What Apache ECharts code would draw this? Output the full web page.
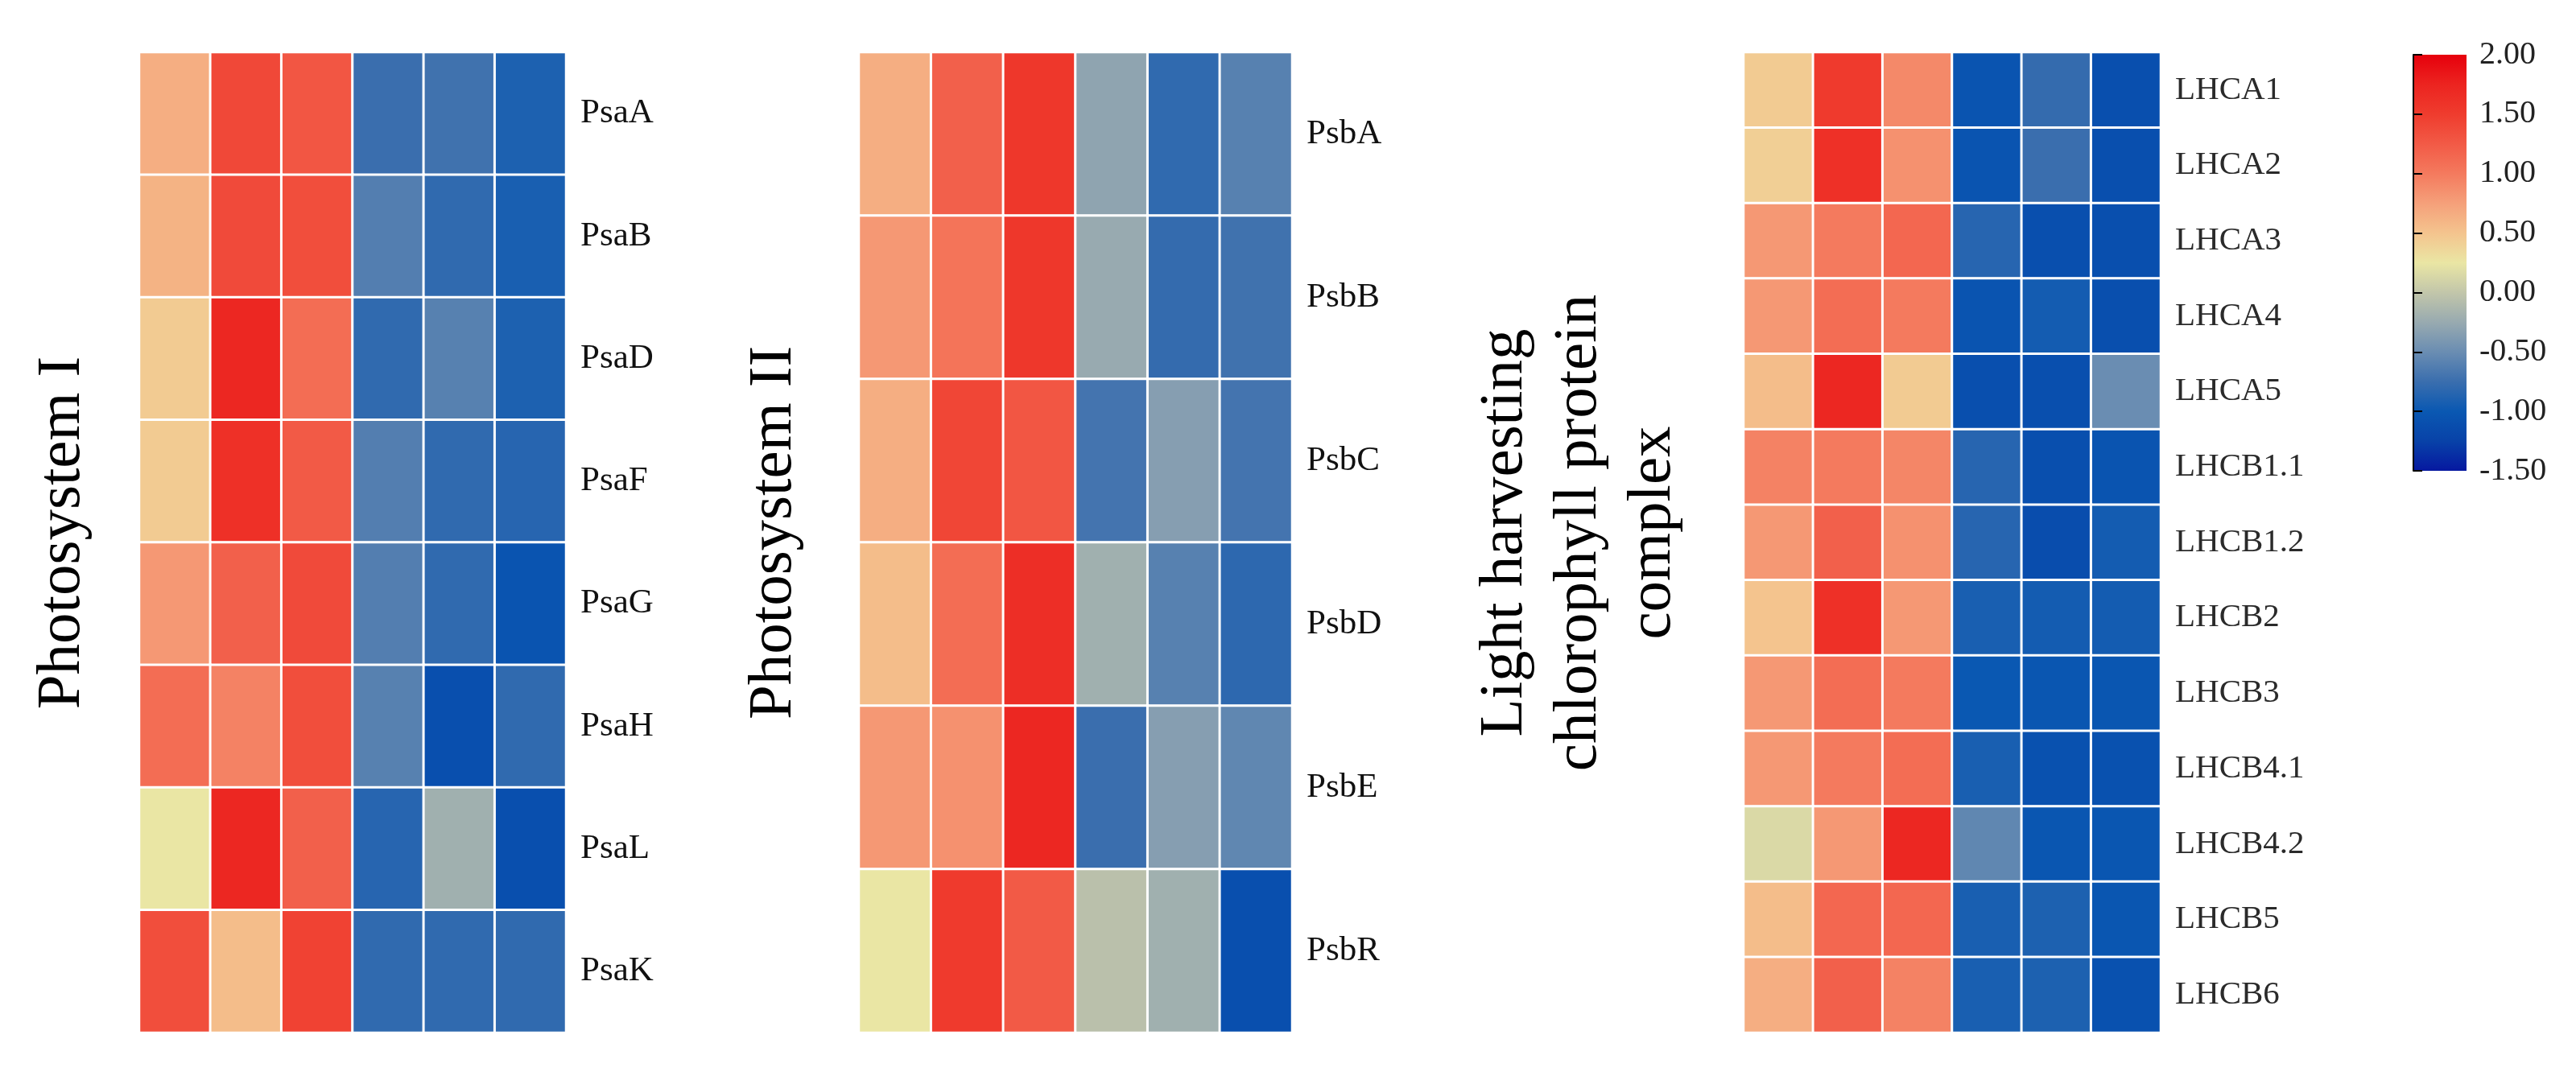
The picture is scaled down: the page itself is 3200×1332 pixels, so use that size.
<!DOCTYPE html>
<html>
<head>
<meta charset="utf-8">
<script src="https://cdn.jsdelivr.net/npm/echarts@6/dist/echarts.min.js"></script>
<style>
  html, body { margin: 0; padding: 0; background: #fff; }
  #main { width: 3200px; height: 1332px; }
</style>
</head>
<body>
<div id="main"></div>
<script>
// samples (columns) - not labelled in the figure
var samples = ['S1', 'S2', 'S3', 'S4', 'S5', 'S6'];

// Photosystem I
var psiGenes = ['PsaA', 'PsaB', 'PsaD', 'PsaF', 'PsaG', 'PsaH', 'PsaL', 'PsaK'];
var psiValues = [
    [0.65, 1.40, 1.28, -0.75, -0.72, -0.90],
    [0.62, 1.38, 1.35, -0.62, -0.80, -0.92],
    [0.45, 1.72, 1.10, -0.80, -0.60, -0.90],
    [0.45, 1.62, 1.25, -0.62, -0.80, -0.85],
    [0.80, 1.20, 1.38, -0.62, -0.80, -1.05],
    [1.10, 0.95, 1.35, -0.60, -1.10, -0.80],
    [0.25, 1.72, 1.20, -0.85, -0.20, -1.10],
    [1.35, 0.55, 1.45, -0.80, -0.80, -0.80]
];

// Photosystem II
var psiiGenes = ['PsbA', 'PsbB', 'PsbC', 'PsbD', 'PsbE', 'PsbR'];
var psiiValues = [
    [0.65, 1.20, 1.55, -0.30, -0.80, -0.60],
    [0.80, 1.05, 1.55, -0.25, -0.78, -0.72],
    [0.65, 1.42, 1.28, -0.70, -0.35, -0.70],
    [0.55, 1.10, 1.65, -0.20, -0.60, -0.82],
    [0.80, 0.85, 1.72, -0.75, -0.35, -0.55],
    [0.25, 1.52, 1.25, -0.05, -0.20, -1.10]
];

// Light harvesting chlorophyll protein complex
var lhcGenes = ['LHCA1', 'LHCA2', 'LHCA3', 'LHCA4', 'LHCA5', 'LHCB1.1', 'LHCB1.2',
    'LHCB2', 'LHCB3', 'LHCB4.1', 'LHCB4.2', 'LHCB5', 'LHCB6'];
var lhcValues = [
    [0.45, 1.52, 0.90, -1.05, -0.78, -1.10],
    [0.42, 1.62, 0.85, -1.05, -0.75, -1.10],
    [0.80, 1.00, 1.15, -0.85, -1.10, -1.10],
    [0.80, 1.10, 1.00, -1.05, -0.95, -1.10],
    [0.55, 1.72, 0.45, -1.10, -1.10, -0.50],
    [0.95, 1.00, 0.92, -0.85, -1.10, -1.05],
    [0.80, 1.20, 0.85, -0.85, -1.12, -0.95],
    [0.50, 1.62, 0.80, -0.92, -0.95, -0.95],
    [0.80, 1.10, 1.00, -1.00, -1.02, -1.02],
    [0.80, 1.00, 1.10, -0.92, -1.08, -1.08],
    [0.15, 0.80, 1.72, -0.55, -1.02, -1.02],
    [0.55, 1.15, 1.15, -0.92, -0.90, -1.02],
    [0.65, 1.20, 0.95, -0.92, -0.90, -1.08]
];

// colour scale, -1.50 .. 2.00 in 0.25 steps
var scaleMin = -1.5, scaleMax = 2, scaleStep = 0.5;
var scaleColors = ['#0618a0', '#0842a8', '#0a58b2', '#3a6eae', '#6a8db2', '#98aab0',
    '#c2c6aa', '#eae6a4', '#f4c48e', '#f5a07a', '#f47a5e', '#f25a46', '#ef3c2e', '#ec2420', '#e6000c'];

var serif = '"Liberation Serif", "Times New Roman", serif';

function toCells(rows) {
    var out = [];
    rows.forEach(function (row, r) {
        row.forEach(function (v, c) { out.push([c, r, v]); });
    });
    return out;
}

var panels = [
    { genes: psiGenes, values: psiValues, left: 173, width: 530, labelSize: 43, labelColor: '#111' },
    { genes: psiiGenes, values: psiiValues, left: 1067, width: 538, labelSize: 43, labelColor: '#111' },
    { genes: lhcGenes, values: lhcValues, left: 2166, width: 518, labelSize: 41, labelColor: '#2a2a2a' }
];

var grids = [], xAxes = [], yAxes = [], series = [];
panels.forEach(function (p, i) {
    grids.push({ left: p.left, top: 65, width: p.width, height: 1218 });
    xAxes.push({ type: 'category', gridIndex: i, data: samples, show: false });
    yAxes.push({
        type: 'category', gridIndex: i, data: p.genes, inverse: true, position: 'right',
        axisLine: { show: false }, axisTick: { show: false }, splitLine: { show: false },
        axisLabel: { fontFamily: serif, fontSize: p.labelSize, color: p.labelColor, margin: 18 }
    });
    series.push({
        type: 'heatmap', xAxisIndex: i, yAxisIndex: i,
        data: toCells(p.values),
        itemStyle: { borderColor: '#fff', borderWidth: 3 },
        emphasis: { disabled: true }
    });
});

// colour bar
var barStops = scaleColors.slice().reverse().map(function (c, i, a) {
    return { offset: i / (a.length - 1), color: c };
});
grids.push({
    left: 2998, top: 68, width: 66, height: 517, show: true, borderWidth: 0,
    backgroundColor: { type: 'linear', x: 0, y: 0, x2: 0, y2: 1, colorStops: barStops }
});
xAxes.push({ type: 'value', gridIndex: 3, show: false, min: 0, max: 1 });
yAxes.push({
    type: 'value', gridIndex: 3, position: 'right', min: scaleMin, max: scaleMax, interval: scaleStep,
    axisLine: { show: true, lineStyle: { color: '#000', width: 2 } },
    axisTick: { show: true, inside: false, length: 11, lineStyle: { color: '#000', width: 2 } },
    splitLine: { show: false },
    axisLabel: {
        fontFamily: serif, fontSize: 40, color: '#222', margin: 16,
        formatter: function (v) { return v.toFixed(2); }
    }
});

var titleFont = '77px ' + serif;
var option = {
    backgroundColor: '#fff',
    animation: false,
    grid: grids,
    xAxis: xAxes,
    yAxis: yAxes,
    visualMap: {
        type: 'continuous', show: false, min: scaleMin, max: scaleMax,
        seriesIndex: [0, 1, 2],
        inRange: { color: scaleColors }
    },
    graphic: [
        { type: 'text', x: 78, y: 662, rotation: Math.PI / 2,
          style: { text: 'Photosystem I', font: titleFont, fill: '#000', textAlign: 'center', textVerticalAlign: 'middle' } },
        { type: 'text', x: 962, y: 662, rotation: Math.PI / 2,
          style: { text: 'Photosystem II', font: titleFont, fill: '#000', textAlign: 'center', textVerticalAlign: 'middle' } },
        { type: 'text', x: 1962, y: 662, rotation: Math.PI / 2,
          style: { text: 'Light harvesting\nchlorophyll protein\ncomplex', font: titleFont, lineHeight: 92,
                   fill: '#000', textAlign: 'center', textVerticalAlign: 'middle' } }
    ],
    series: series
};

var chart = echarts.init(document.getElementById('main'));
chart.setOption(option);
</script>
</body>
</html>
